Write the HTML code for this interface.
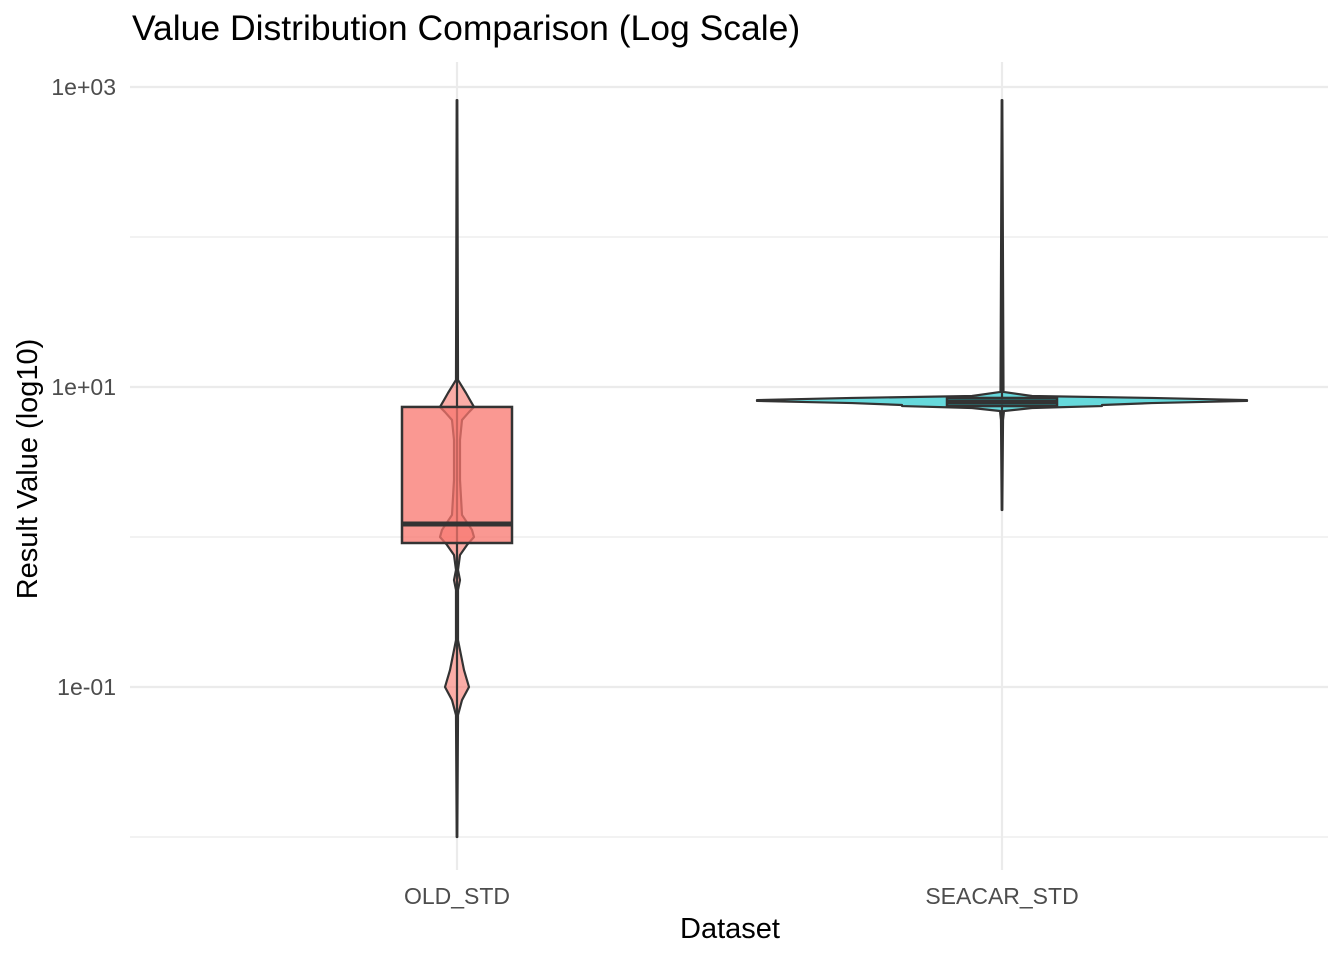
<!DOCTYPE html>
<html><head><meta charset="utf-8">
<style>
body{margin:0;background:#fff;}
svg text{font-family:"Liberation Sans",sans-serif;}
</style></head>
<body>
<svg id="chart" width="1344" height="960" xmlns="http://www.w3.org/2000/svg">
<text x="132" y="40" font-size="35.5" fill="#000">Value Distribution Comparison (Log Scale)</text>
<text x="730" y="938" font-size="29" text-anchor="middle" fill="#000">Dataset</text>
<text transform="translate(37,469) rotate(-90)" font-size="29" text-anchor="middle" fill="#000">Result Value (log10)</text>
<g id="grid"></g><g id="marks"></g><g id="labels"></g>
</svg>
<script>
const categories = ["OLD_STD", "SEACAR_STD"];
const fills = ["#F8766D", "#00BFC4"];
const majorTicks = [3, 1, -1];
const majorTickLabels = ["1e+03", "1e+01", "1e-01"];
const minorTicks = [2, 0, -2];
// violin profiles: log10 value and relative density
const oldLog = [2.913, 1.047, 0.96, 0.913, 0.867, 0.833, 0.78, 0.647, 0.38, 0.147, 0.047, 0, -0.053, -0.12, -0.22, -0.287, -0.353, -0.687, -0.887, -1, -1.087, -1.187, -2];
const oldDens = [0.3, 1, 9, 13, 17, 12, 5, 3, 3, 5, 15, 17, 10, 3, 1, 3, 1, 1, 7, 12, 5, 1, 0.3];
const seaLog = [2.913, 0.967, 0.94, 0.927, 0.913, 0.907, 0.893, 0.88, 0.873, 0.86, 0.84, 0.78, 0.18];
const seaDens = [0.3, 1.5, 30, 150, 245, 245, 150, 100, 100, 30, 2, 1, 0.3];
// box stats: q1, median, q3 (log10), whisker low/high
const boxQ1 = [-0.04, 0.873];
const boxMed = [0.087, 0.9];
const boxQ3 = [0.867, 0.927];
const whiskLo = [-2, 0.18];
const whiskHi = [2.913, 2.913];

const NS = "http://www.w3.org/2000/svg";
const y = v => 387 - (v - 1) * 150;
const x = i => [457, 1002][i];
const wScale = [1, 1];
function mk(tag, attrs, parent){const e=document.createElementNS(NS,tag);for(const k in attrs)e.setAttribute(k,attrs[k]);parent.appendChild(e);return e;}
const grid=document.getElementById('grid'), marks=document.getElementById('marks'), labels=document.getElementById('labels');
minorTicks.forEach(t=>{const l=mk('line',{x1:130,x2:1328,y1:y(t),y2:y(t),stroke:'#ebebeb','stroke-width':1.2},grid);

});
majorTicks.forEach((t,i)=>{const l=mk('line',{x1:130,x2:1328,y1:y(t),y2:y(t),stroke:'#ebebeb','stroke-width':2.2},grid);


const tx=mk('text',{x:116,y:y(t)+8,'font-size':23,'text-anchor':'end',fill:'#4d4d4d'},labels);tx.textContent=majorTickLabels[i];

});
categories.forEach((c,i)=>{const l=mk('line',{x1:x(i),x2:x(i),y1:62,y2:870,stroke:'#ebebeb','stroke-width':2.2},grid);


const tx=mk('text',{x:x(i),y:904,'font-size':23,'text-anchor':'middle',fill:'#4d4d4d'},labels);tx.textContent=c;

});
function violin(i, logs, dens){
  let pts=[];
  for(let k=0;k<logs.length;k++)pts.push((x(i)+dens[k]*wScale[i])+','+y(logs[k]));
  for(let k=logs.length-1;k>=0;k--)pts.push((x(i)-dens[k]*wScale[i])+','+y(logs[k]));
  const p=mk('polygon',{points:pts.join(' '),fill:fills[i],'fill-opacity':0.6,stroke:'#333','stroke-width':2.2,'stroke-linejoin':'round'},marks);
  
  
}
function box(i){
  const half = 55;
  const w=mk('line',{x1:x(i),x2:x(i),y1:y(whiskHi[i]),y2:y(whiskLo[i]),stroke:'#333','stroke-width':2.2},marks);
  
  
  const r=mk('rect',{x:x(i)-half,y:y(boxQ3[i]),width:half*2,height:y(boxQ1[i])-y(boxQ3[i]),fill:fills[i],'fill-opacity':0.75,stroke:'#333','stroke-width':2.5},marks);
  
  
  const m=mk('line',{x1:x(i)-half,x2:x(i)+half,y1:y(boxMed[i]),y2:y(boxMed[i]),stroke:'#333','stroke-width':5},marks);
  
  
}
violin(0, oldLog, oldDens);
box(0);
violin(1, seaLog, seaDens);
box(1);
</script>
</body></html>
